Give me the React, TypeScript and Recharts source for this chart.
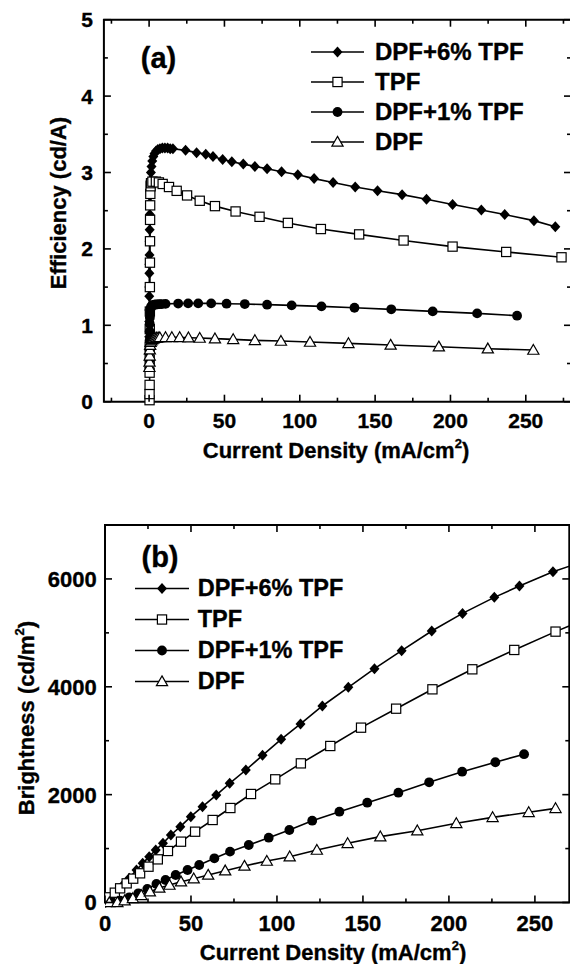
import React from "react";
import { ScatterChart, Scatter, XAxis, YAxis, ReferenceArea, Legend } from "recharts";

// (a) efficiency (cd/A) vs current density (mA/cm2)
const effJ_dpf6 = [0, 0.02, 0.04, 0.06, 0.08, 0.1, 0.13, 0.16, 0.2, 0.25, 0.3, 0.37, 0.45, 0.55, 0.7, 0.9, 1.2, 1.6, 2.1, 2.8, 3.6, 4.6, 5.8, 7.2, 8.8, 10.5, 12.3, 14, 15.8, 24.2, 31.5, 37.6, 42.4, 48.8, 54.9, 62.5, 70.2, 78.3, 87.9, 98.7, 109.5, 122.1, 136.8, 151.6, 167.9, 184.1, 201.4, 220.5, 236, 255.4, 269.6];
const effE_dpf6 = [0.45, 0.62, 0.85, 1.05, 1.2, 1.38, 1.5, 1.68, 1.8, 1.92, 2.1, 2.25, 2.45, 2.6, 2.75, 2.9, 3.0, 3.08, 3.15, 3.21, 3.25, 3.28, 3.3, 3.31, 3.32, 3.32, 3.32, 3.31, 3.31, 3.29, 3.26, 3.24, 3.21, 3.17, 3.14, 3.11, 3.08, 3.05, 3.01, 2.97, 2.92, 2.87, 2.81, 2.76, 2.71, 2.65, 2.58, 2.51, 2.45, 2.37, 2.29];

const effJ_tpf = [0.3, 0.3, 0.35, 0.35, 0.4, 0.4, 0.45, 0.5, 0.5, 0.55, 0.6, 0.65, 0.7, 0.8, 1.0, 1.3, 2.2, 4.5, 6.5, 9.0, 13.2, 18.3, 25.2, 33.6, 43.7, 57.4, 73.3, 92.1, 114, 139.4, 168.9, 201.4, 237, 273.7];
const effE_tpf = [0.02, 0.1, 0.22, 0.38, 0.55, 0.72, 0.95, 1.18, 1.5, 1.82, 2.1, 2.38, 2.57, 2.72, 2.82, 2.86, 2.88, 2.88, 2.87, 2.85, 2.81, 2.76, 2.7, 2.63, 2.56, 2.49, 2.42, 2.34, 2.26, 2.19, 2.11, 2.03, 1.96, 1.89];

const effJ_dpf1 = [0.2, 0.25, 0.3, 0.35, 0.4, 0.5, 0.6, 0.8, 1.1, 1.5, 2.0, 2.7, 3.5, 4.5, 5.7, 7, 8.5, 10.9, 19.3, 25.9, 32.6, 41.2, 51.4, 63.5, 78.3, 94.6, 114.4, 136.3, 160.7, 188.2, 217.7, 244.2];
const effE_dpf1 = [0.55, 0.68, 0.8, 0.92, 1.02, 1.1, 1.16, 1.2, 1.23, 1.25, 1.26, 1.265, 1.27, 1.272, 1.274, 1.276, 1.278, 1.28, 1.285, 1.287, 1.287, 1.287, 1.283, 1.278, 1.27, 1.261, 1.248, 1.23, 1.209, 1.182, 1.156, 1.126];

const effJ_dpf = [0.2, 0.3, 0.4, 0.5, 0.7, 1.0, 1.5, 2.2, 3.0, 4.0, 5.0, 6.0, 7.1, 10.9, 15.1, 20.3, 26.1, 33.6, 43.7, 55.8, 70.2, 87.5, 106.8, 132.3, 160.3, 192.3, 224.8, 255];
const effE_dpf = [0.45, 0.52, 0.6, 0.68, 0.74, 0.78, 0.8, 0.815, 0.825, 0.832, 0.836, 0.838, 0.84, 0.842, 0.842, 0.842, 0.838, 0.833, 0.825, 0.816, 0.803, 0.794, 0.781, 0.764, 0.742, 0.72, 0.694, 0.676];

// (b) brightness (cd/m2) vs current density (mA/cm2)
const brJ_dpf6 = [0.4, 1.05, 3.6, 6.7, 10.5, 14.1, 18.3, 21.9, 25.7, 29.5, 33.7, 38.3, 43.8, 49.9, 56.7, 64.7, 72.5, 81.9, 91.6, 102.4, 113.7, 126.4, 141.5, 156.7, 172.5, 190, 207.9, 226.4, 241, 260.5, 276];
const brB_dpf6 = [0, 28, 96, 201, 324, 448, 603, 726, 850, 973, 1097, 1252, 1406, 1592, 1777, 1993, 2210, 2457, 2729, 3025, 3310, 3644, 3990, 4336, 4669, 5034, 5361, 5658, 5868, 6134, 6300];

const brJ_tpf = [0.8, 2.5, 5.7, 8.8, 12.6, 16.4, 20.4, 25.3, 30.7, 36.6, 44.2, 52.4, 62.6, 72.9, 84.9, 99, 113.9, 131, 148.9, 169.3, 190.4, 213.6, 238, 262, 276];
const brB_tpf = [34, 96, 182, 263, 355, 442, 541, 664, 800, 955, 1128, 1313, 1530, 1752, 2012, 2284, 2580, 2902, 3242, 3594, 3953, 4324, 4683, 5023, 5210];

const brJ_dpf1 = [3.6, 8.8, 14.1, 19.4, 24.6, 29.9, 35.2, 41.1, 48, 54.8, 63.6, 72.7, 83.6, 95.2, 107.2, 120.5, 136.3, 152.5, 170.6, 188.5, 207.7, 227, 243.7];
const brB_dpf1 = [5, 34, 96, 170, 250, 343, 417, 510, 603, 695, 819, 943, 1066, 1202, 1344, 1517, 1684, 1851, 2036, 2229, 2426, 2601, 2750];

const brJ_dpf = [2.5, 7.2, 11.4, 16.2, 21.1, 26.1, 31.6, 37.5, 44.2, 51.6, 60, 69.9, 81.1, 94.1, 107.4, 123.2, 141.1, 160.1, 181.6, 204.3, 225.4, 246.4, 262];
const brB_dpf = [0, 3, 34, 77, 133, 201, 269, 324, 386, 442, 510, 590, 677, 769, 850, 973, 1097, 1221, 1332, 1468, 1579, 1672, 1746];

const seriesNames = ["DPF+6% TPF", "TPF", "DPF+1% TPF", "DPF"];
const markerKinds = ["diamond", "square", "circle", "triangle"];

const effXTicks = [-25, 0, 25, 50, 75, 100, 125, 150, 175, 200, 225, 250, 275];
const effYTicks = [0, 0.5, 1, 1.5, 2, 2.5, 3, 3.5, 4, 4.5, 5];
const brXTicks = [0, 25, 50, 75, 100, 125, 150, 175, 200, 225, 250];
const brYTicks = [0, 1000, 2000, 3000, 4000, 5000, 6000, 7000];

const FONT = '"Liberation Sans", Arial, Helvetica, sans-serif';

const zip = (xs: number[], ys: number[]) => xs.map((x, i) => ({ x, y: ys[i] }));

function Marker({ kind, cx, cy }: { kind: string; cx: number; cy: number }) {
  if (cx == null || cy == null) return null;
  switch (kind) {
    case "diamond":
      return <polygon points={`${cx},${cy - 5.5} ${cx + 5},${cy} ${cx},${cy + 5.5} ${cx - 5},${cy}`} fill="#000" />;
    case "square":
      return <rect x={cx - 4.6} y={cy - 4.6} width={9.2} height={9.2} fill="#fff" stroke="#000" strokeWidth={1.2} />;
    case "circle":
      return <circle cx={cx} cy={cy} r={4.9} fill="#000" />;
    default:
      return (
        <polygon
          points={`${cx},${cy - 5.6} ${cx + 5.6},${cy + 4.2} ${cx - 5.6},${cy + 4.2}`}
          fill="#fff"
          stroke="#000"
          strokeWidth={1.2}
        />
      );
  }
}

type Box = { left: number; top: number; right: number; bottom: number };

type PanelProps = {
  top: number;
  width: number;
  height: number;
  plot: Box;
  xDomain: [number, number];
  yDomain: [number, number];
  xTicks: number[];
  yTicks: number[];
  xStep: number;
  yStep: number;
  fontSize: number;
  xLabelDy: number;
  yLabelGap: number;
  overflow: boolean;
  data: { x: number; y: number }[][];
  legend: { left: number; top: number; rowH: number; symW: number; gap: number; fontSize: number };
};

function Panel(p: PanelProps) {
  const { left: L, top: T, right: R, bottom: B } = p.plot;
  // axes take 1px each, so the margin is the plot box minus that
  const margin = { top: T, right: p.width - R, bottom: p.height - B - 1, left: L - 1 };

  const labelProps = {
    fontFamily: FONT,
    fontWeight: "bold",
    fontSize: p.fontSize,
    fill: "#000",
    stroke: "#000",
    strokeWidth: 0.35,
  };

  const xTick = (props: any) => {
    const x = props.x;
    const v = props.payload.value;
    const major = v % p.xStep === 0;
    const len = major ? 7 : 4;
    return (
      <g>
        <line x1={x} x2={x} y1={B} y2={B - len} stroke="#000" strokeWidth={1.6} />
        <line x1={x} x2={x} y1={T} y2={T + len} stroke="#000" strokeWidth={1.6} />
        {major && (
          <text x={x} y={B + p.xLabelDy + p.fontSize * 0.36} textAnchor="middle" {...labelProps}>
            {v}
          </text>
        )}
      </g>
    );
  };

  const yTick = (props: any) => {
    const y = props.y;
    const v = props.payload.value;
    const major = v % p.yStep === 0;
    const len = major ? 7 : 4;
    return (
      <g>
        <line x1={L} x2={L + len} y1={y} y2={y} stroke="#000" strokeWidth={1.6} />
        <line x1={R} x2={R - len} y1={y} y2={y} stroke="#000" strokeWidth={1.6} />
        {major && (
          <text x={L - p.yLabelGap} y={y + p.fontSize * 0.36} textAnchor="end" {...labelProps}>
            {v}
          </text>
        )}
      </g>
    );
  };

  const lg = p.legend;
  const renderLegend = () => (
    <div
      style={{
        fontFamily: FONT,
        fontWeight: "bold",
        fontSize: lg.fontSize,
        color: "#000",
        WebkitTextStroke: "0.35px #000",
      }}
    >
      {seriesNames.map((name, i) => (
        <div key={name} style={{ display: "flex", alignItems: "center", height: lg.rowH, whiteSpace: "nowrap" }}>
          <svg width={lg.symW} height={lg.rowH} style={{ display: "block" }}>
            <line x1={0} x2={lg.symW} y1={lg.rowH / 2} y2={lg.rowH / 2} stroke="#000" strokeWidth={1.6} />
            <Marker kind={markerKinds[i]} cx={lg.symW / 2} cy={lg.rowH / 2} />
          </svg>
          <span style={{ marginLeft: lg.gap, lineHeight: `${lg.rowH}px` }}>{name}</span>
        </div>
      ))}
    </div>
  );

  return (
    <div style={{ position: "absolute", left: 0, top: p.top, width: 570, height: p.height, overflow: "hidden" }}>
      <ScatterChart width={p.width} height={p.height} margin={margin}>
        <XAxis
          type="number"
          dataKey="x"
          domain={p.xDomain}
          ticks={p.xTicks}
          interval={0}
          tick={xTick}
          tickLine={false}
          axisLine={false}
          tickSize={0}
          tickMargin={0}
          height={1}
          allowDataOverflow={p.overflow}
        />
        <YAxis
          type="number"
          dataKey="y"
          domain={p.yDomain}
          ticks={p.yTicks}
          interval={0}
          tick={yTick}
          tickLine={false}
          axisLine={false}
          tickSize={0}
          tickMargin={0}
          width={1}
        />
        {p.data.map((d, i) => (
          <Scatter
            key={seriesNames[i]}
            name={seriesNames[i]}
            data={d}
            line={{ stroke: "#000", strokeWidth: 1.6 }}
            lineType="joint"
            shape={(s: any) => <Marker kind={markerKinds[i]} cx={s.cx} cy={s.cy} />}
            isAnimationActive={false}
          />
        ))}
        <ReferenceArea
          x1={p.xDomain[0]}
          x2={p.xDomain[1]}
          y1={p.yDomain[0]}
          y2={p.yDomain[1]}
          fill="none"
          fillOpacity={0}
          stroke="#000"
          strokeWidth={2}
          ifOverflow="visible"
        />
        <Legend
          layout="vertical"
          align="center"
          verticalAlign="middle"
          content={renderLegend}
          wrapperStyle={{ left: lg.left, top: lg.top, width: 260 }}
        />
      </ScatterChart>
    </div>
  );
}

const titleStyle: React.CSSProperties = {
  position: "absolute",
  fontFamily: FONT,
  fontWeight: "bold",
  fontSize: 22,
  color: "#000",
  whiteSpace: "nowrap",
  lineHeight: 1,
  WebkitTextStroke: "0.35px #000",
};

const supStyle: React.CSSProperties = { fontSize: 13, verticalAlign: "top", position: "relative", top: -3 };

export default function App() {
  return (
    <div style={{ position: "absolute", left: 0, top: 0, width: 570, height: 964, background: "#fff", overflow: "hidden" }}>
      <Panel
        top={0}
        width={600}
        height={470}
        plot={{ left: 103.9, top: 19.7, right: 571, bottom: 401.7 }}
        xDomain={[-30, 280]}
        yDomain={[0, 5]}
        xTicks={effXTicks}
        yTicks={effYTicks}
        xStep={50}
        yStep={1}
        fontSize={21}
        xLabelDy={19}
        yLabelGap={11}
        overflow={false}
        data={[zip(effJ_dpf6, effE_dpf6), zip(effJ_tpf, effE_tpf), zip(effJ_dpf1, effE_dpf1), zip(effJ_dpf, effE_dpf)]}
        legend={{ left: 311, top: 36.7, rowH: 30, symW: 53, gap: 11, fontSize: 24 }}
      />
      <Panel
        top={470}
        width={570}
        height={494}
        plot={{ left: 105, top: 55, right: 569.3, bottom: 432.5 }}
        xDomain={[0, 270]}
        yDomain={[0, 7000]}
        xTicks={brXTicks}
        yTicks={brYTicks}
        xStep={50}
        yStep={2000}
        fontSize={22}
        xLabelDy={21}
        yLabelGap={8.3}
        overflow={true}
        data={[zip(brJ_dpf6, brB_dpf6), zip(brJ_tpf, brB_tpf), zip(brJ_dpf1, brB_dpf1), zip(brJ_dpf, brB_dpf)]}
        legend={{ left: 134.7, top: 102.8, rowH: 31, symW: 54, gap: 9, fontSize: 23.5 }}
      />

      <div style={{ ...titleStyle, fontSize: 29, left: 158.5, top: 58.3, transform: "translate(-50%, -50%)" }}>(a)</div>
      <div style={{ ...titleStyle, fontSize: 29, left: 160, top: 556.7, transform: "translate(-50%, -50%)" }}>(b)</div>

      <div style={{ ...titleStyle, left: 336, top: 451, transform: "translate(-50%, -50%)" }}>
        Current Density (mA/cm<span style={supStyle}>2</span>)
      </div>
      <div style={{ ...titleStyle, left: 333, top: 953.3, transform: "translate(-50%, -50%)" }}>
        Current Density (mA/cm<span style={supStyle}>2</span>)
      </div>
      <div style={{ ...titleStyle, left: 59, top: 203, transform: "translate(-50%, -50%) rotate(-90deg)" }}>
        Efficiency (cd/A)
      </div>
      <div style={{ ...titleStyle, left: 27, top: 717.5, transform: "translate(-50%, -50%) rotate(-90deg)" }}>
        Brightness (cd/m<span style={supStyle}>2</span>)
      </div>
    </div>
  );
}
